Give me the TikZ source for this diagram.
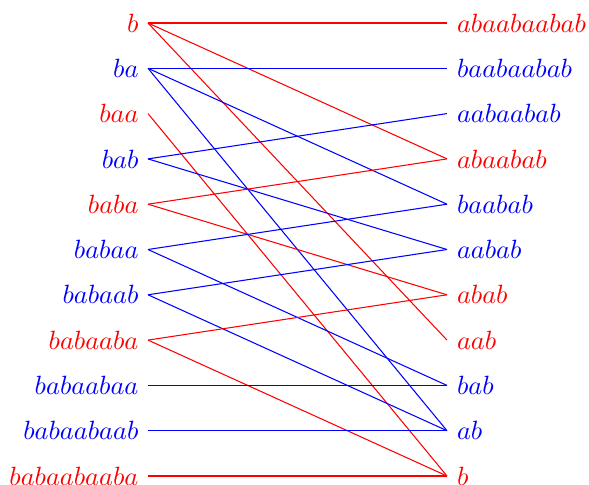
\documentclass[tikz,border=0pt]{standalone}
\begin{document}
\begin{tikzpicture}[x=0.3788pt,y=-0.3788pt,
  lab/.style={inner sep=0pt,text height=6.94pt,text depth=0pt},
  ll/.style={lab,anchor=east,xshift=-3.4pt},
  rl/.style={lab,anchor=west,xshift=3.6pt},
  R/.style={red},B/.style={blue}]
\useasboundingbox (0,0) rectangle (589,485);
\def\xl{148}\def\xr{447}
% coordinates
\foreach \i in {1,...,11}{
  \coordinate (l\i) at (\xl,{23+45.3*(\i-1)});
  \coordinate (r\i) at (\xr,{23+45.3*(\i-1)});
}
% left labels
\node[ll,R] (tl1) at (l1) {$b$};
\node[ll,B] (tl2) at (l2) {$ba$};
\node[ll,R] (tl3) at (l3) {$baa$};
\node[ll,B] (tl4) at (l4) {$bab$};
\node[ll,R] (tl5) at (l5) {$baba$};
\node[ll,B] (tl6) at (l6) {$babaa$};
\node[ll,B] (tl7) at (l7) {$babaab$};
\node[ll,R] (tl8) at (l8) {$babaaba$};
\node[ll,B] (tl9) at (l9) {$babaabaa$};
\node[ll,B] (tl10) at (l10) {$babaabaab$};
\node[ll,R] (tl11) at (l11) {$babaabaaba$};
% right labels
\node[rl,R] (tr1) at (r1) {$abaabaabab$};
\node[rl,B] (tr2) at (r2) {$baabaabab$};
\node[rl,B] (tr3) at (r3) {$aabaabab$};
\node[rl,R] (tr4) at (r4) {$abaabab$};
\node[rl,B] (tr5) at (r5) {$baabab$};
\node[rl,B] (tr6) at (r6) {$aabab$};
\node[rl,R] (tr7) at (r7) {$abab$};
\node[rl,R] (tr8) at (r8) {$aab$};
\node[rl,B] (tr9) at (r9) {$bab$};
\node[rl,B] (tr10) at (r10) {$ab$};
\node[rl,R] (tr11) at (r11) {$b$};
% edges
\draw[R] (l1) -- (r1);
\draw[R] (l1) -- (r4);
\draw[R] (l1) -- (r8);
\draw[B] (l2) -- (r2);
\draw[B] (l2) -- (r5);
\draw[B] (l2) -- (r10);
\draw[R] (l3) -- (r11);
\draw[B] (l4) -- (r3);
\draw[B] (l4) -- (r6);
\draw[R] (l5) -- (r4);
\draw[R] (l5) -- (r7);
\draw[B] (l6) -- (r5);
\draw[B] (l6) -- (r9);
\draw[B] (l7) -- (r6);
\draw[B] (l7) -- (r10);
\draw[R] (l8) -- (r7);
\draw[R] (l8) -- (r11);
\draw[B] (l9) -- (r9);
\draw[B] (l10) -- (r10);
\draw[R] (l11) -- (r11);
\end{tikzpicture}
\end{document}
